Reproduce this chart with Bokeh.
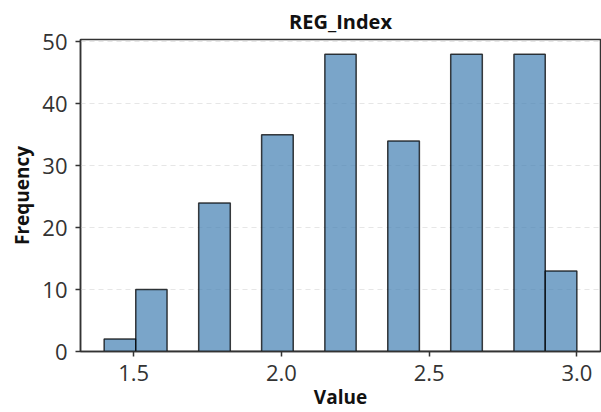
from bokeh.plotting import figure
from bokeh.models import Range1d, FixedTicker
from bokeh.embed import file_html
from bokeh.resources import INLINE

# Histogram data (bin edges and counts)
bin_edges = [1.400, 1.507, 1.613, 1.720, 1.827, 1.933, 2.040, 2.147,
             2.253, 2.360, 2.467, 2.573, 2.680, 2.787, 2.893, 3.000]
counts = [2, 10, 0, 24, 0, 35, 0, 48, 0, 34, 0, 48, 0, 48, 13]
x_ticks = [1.5, 2.0, 2.5, 3.0]
y_ticks = [0, 10, 20, 30, 40, 50]

FONT = "Open Sans"

p = figure(width=601, height=412, output_backend="svg", toolbar_location=None,
           x_range=Range1d(1.32, 3.08), y_range=Range1d(0, 50.4),
           min_border_left=80, min_border_right=1, min_border_top=39,
           min_border_bottom=59)

p.title.text = "REG_Index"
p.title.align = "center"
p.title.text_font = FONT
p.title.text_font_style = "bold"
p.title.text_font_size = "20px"
p.title.text_color = "#111111"

p.quad(left=bin_edges[:-1], right=bin_edges[1:], top=counts, bottom=0,
       fill_color="#4682B4", fill_alpha=0.72, line_color="#000000",
       line_alpha=0.75, line_width=1.5)

p.xgrid.visible = False
p.ygrid.grid_line_color = "#e0e0e0"
p.ygrid.grid_line_dash = "5 4"
p.ygrid.grid_line_width = 1
p.ygrid.grid_line_alpha = 0.8

p.outline_line_color = "#333333"
p.outline_line_width = 1.5
p.background_fill_color = "white"
p.border_fill_color = "white"

for ax in (p.xaxis[0], p.yaxis[0]):
    ax.axis_line_color = "#333333"
    ax.axis_line_width = 1.5
    ax.major_tick_line_color = "#333333"
    ax.major_tick_line_width = 1.5
    ax.major_tick_out = 5
    ax.major_tick_in = 0
    ax.minor_tick_line_color = None
    ax.major_label_text_font = FONT
    ax.major_label_text_font_size = "22px"
    ax.major_label_text_color = "#333333"
    ax.axis_label_text_font = FONT
    ax.axis_label_text_font_style = "bold"
    ax.axis_label_text_font_size = "19px"
    ax.axis_label_text_color = "#111111"

p.xaxis.ticker = FixedTicker(ticks=x_ticks)
p.yaxis.ticker = FixedTicker(ticks=y_ticks)
p.xaxis.major_label_overrides = {t: f"{t:.1f}" for t in x_ticks}
p.xaxis.axis_label = "Value"
p.yaxis.axis_label = "Frequency"
p.xaxis.major_label_standoff = 8
p.yaxis.major_label_standoff = 8
p.xaxis.axis_label_standoff = 0
p.yaxis.axis_label_standoff = 4

open("out.html", "w").write(file_html(p, INLINE))
